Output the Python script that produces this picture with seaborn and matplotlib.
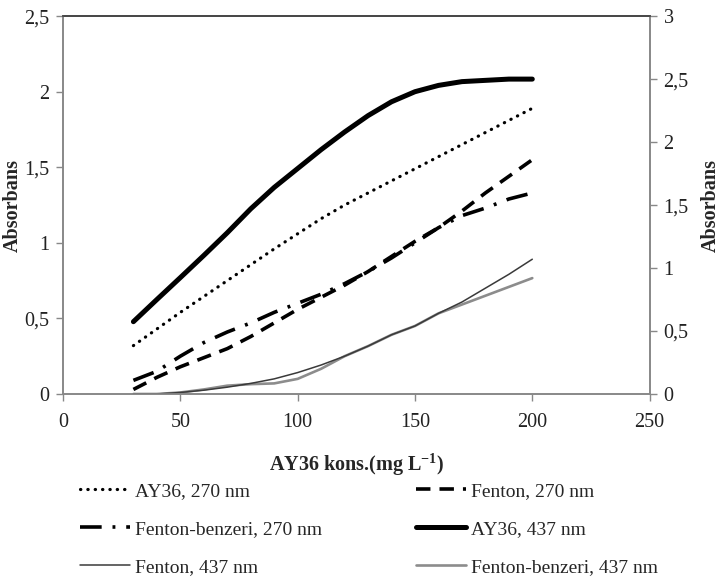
import matplotlib
matplotlib.use("Agg")
import matplotlib.pyplot as plt
import seaborn as sns

# AY36 concentration (mg/L)
conc = [30, 40, 50, 60, 70, 80, 90, 100, 110, 120, 130, 140, 150, 160, 170, 180, 190, 200]

# 270 nm series (left axis)
ay36_270 = [0.32, 0.43, 0.54, 0.645, 0.75, 0.855, 0.96, 1.06, 1.16, 1.25, 1.33, 1.41, 1.49, 1.57, 1.65, 1.73, 1.81, 1.89]
fenton_270 = [0.03, 0.11, 0.18, 0.24, 0.30, 0.38, 0.47, 0.56, 0.64, 0.72, 0.81, 0.91, 1.01, 1.10, 1.21, 1.33, 1.44, 1.55]
fb_270 = [0.09, 0.15, 0.25, 0.34, 0.41, 0.47, 0.54, 0.60, 0.66, 0.73, 0.81, 0.90, 1.00, 1.10, 1.18, 1.23, 1.29, 1.33]

# 437 nm series (right axis)
ay36_437 = [0.574, 0.75, 0.924, 1.10, 1.28, 1.47, 1.64, 1.79, 1.94, 2.08, 2.21, 2.32, 2.40, 2.45, 2.48, 2.49, 2.50, 2.50]
fenton_437 = [0.0, 0.0, 0.012, 0.03, 0.054, 0.084, 0.12, 0.17, 0.23, 0.30, 0.38, 0.47, 0.54, 0.64, 0.73, 0.84, 0.95, 1.07]
fb_437 = [0.0, 0.0, 0.012, 0.036, 0.066, 0.078, 0.084, 0.12, 0.20, 0.30, 0.38, 0.47, 0.54, 0.64, 0.71, 0.78, 0.85, 0.92]

xticks = [0, 50, 100, 150, 200, 250]
yticks_left = [0, 0.5, 1, 1.5, 2, 2.5]
yticks_right = [0, 0.5, 1, 1.5, 2, 2.5, 3]


def comma(v):
    s = f"{v:g}"
    return s.replace(".", ",")


sns.set_style("ticks")
plt.rcParams["font.family"] = ["Liberation Serif", "DejaVu Serif"]
plt.rcParams["mathtext.fontset"] = "custom"
plt.rcParams["mathtext.rm"] = "Liberation Serif:bold"
plt.rcParams["mathtext.default"] = "rm"

fig = plt.figure(figsize=(7.21, 5.76), dpi=100)
ax = fig.add_axes([0.0874, 0.316, 0.8136, 0.656])
ax2 = ax.twinx()

h1 = sns.lineplot(x=conc, y=ay36_270, ax=ax, color="black", linewidth=2.3,
                  linestyle=(0, (0.1, 2.2)), dash_capstyle="round").lines[-1]
h2 = sns.lineplot(x=conc, y=fenton_270, ax=ax, color="black", linewidth=2.6,
                  linestyle=(0, (4, 2.5))).lines[-1]
h3 = sns.lineplot(x=conc, y=fb_270, ax=ax, color="black", linewidth=2.6,
                  linestyle=(0, (6, 3, 0.8, 3))).lines[-1]
h4 = sns.lineplot(x=conc, y=ay36_437, ax=ax2, color="black", linewidth=3.6).lines[-1]
h6 = sns.lineplot(x=conc, y=fb_437, ax=ax2, color="#8c8c8c", linewidth=1.9).lines[-1]
h5 = sns.lineplot(x=conc, y=fenton_437, ax=ax2, color="#3a3a3a", linewidth=1.1).lines[-1]

ax.set_xlim(0, 250)
ax.set_ylim(0, 2.5)
ax2.set_ylim(0, 3)
ax.set_xticks(xticks)
ax.set_xticklabels([str(t) for t in xticks])
ax.set_yticks(yticks_left)
ax.set_yticklabels([comma(t) for t in yticks_left])
ax2.set_yticks(yticks_right)
ax2.set_yticklabels([comma(t) for t in yticks_right])

for a in (ax, ax2):
    a.tick_params(direction="out", length=5, width=1, color="#888888",
                  labelsize=14.5, labelcolor="#222222")
    for side in ("left", "right", "bottom"):
        a.spines[side].set_color("#888888")
        a.spines[side].set_linewidth(1.2)
    a.spines["top"].set_visible(True)
    a.spines["top"].set_color("#444444")
    a.spines["top"].set_linewidth(1.2)
ax2.spines["right"].set_visible(True)
ax.tick_params(axis="x", pad=9)
ax.tick_params(axis="y", pad=5)
ax2.tick_params(axis="y", pad=5)

ax.set_xlabel("AY36 kons.(mg L$^{-1}$)", fontsize=14.5, fontweight="bold", labelpad=14)
ax.set_ylabel("Absorbans", fontsize=14.5, fontweight="bold")
ax2.set_ylabel("Absorbans", fontsize=14.5, fontweight="bold")
ax.yaxis.set_label_coords(-0.068, 0.5)
ax2.yaxis.set_label_coords(1.088, 0.5)

handles = [h1, h3, h5, h2, h4, h6]
labels = ["AY36, 270 nm", "Fenton-benzeri, 270 nm", "Fenton, 437 nm",
          "Fenton, 270 nm", "AY36, 437 nm", "Fenton-benzeri, 437 nm"]
fig.legend(handles, labels, ncol=2, loc="lower left", bbox_to_anchor=(0.086, -0.03),
           frameon=False, fontsize=14, handlelength=2.6, handletextpad=0.26,
           columnspacing=4.8, labelspacing=1.05)

fig.savefig("out.png", dpi=100)
